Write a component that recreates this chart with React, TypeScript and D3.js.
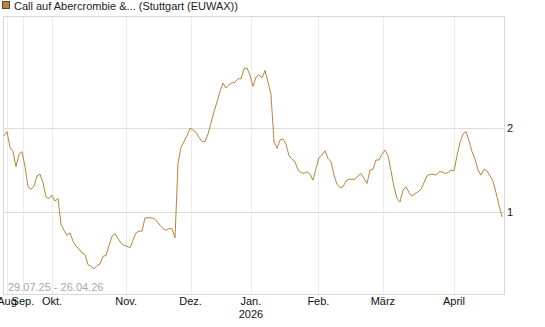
import { useEffect, useRef } from 'react';
import * as d3 from 'd3';

// Closing prices, one per trading step
const prices = [
  1.91, 1.96, 1.77, 1.72, 1.54, 1.69, 1.72, 1.54, 1.30, 1.27,
  1.31, 1.43, 1.45, 1.35, 1.18, 1.16, 1.20, 1.13, 1.16, 0.85,
  0.78, 0.72, 0.75, 0.65, 0.59, 0.56, 0.51, 0.49, 0.37, 0.35,
  0.32, 0.36, 0.38, 0.47, 0.48, 0.60, 0.71, 0.74, 0.68, 0.63,
  0.60, 0.59, 0.57, 0.66, 0.75, 0.77, 0.77, 0.93, 0.93, 0.93,
  0.92, 0.89, 0.84, 0.80, 0.78, 0.80, 0.80, 0.69, 1.58, 1.77,
  1.84, 1.91, 2.00, 1.98, 1.95, 1.89, 1.84, 1.84, 1.93, 2.06,
  2.20, 2.31, 2.44, 2.54, 2.48, 2.52, 2.54, 2.55, 2.59, 2.59,
  2.71, 2.72, 2.63, 2.50, 2.61, 2.64, 2.60, 2.69, 2.55, 2.40,
  1.84, 1.76, 1.86, 1.87, 1.81, 1.67, 1.63, 1.60, 1.50, 1.47,
  1.46, 1.48, 1.45, 1.38, 1.52, 1.65, 1.68, 1.73, 1.64, 1.60,
  1.44, 1.33, 1.29, 1.30, 1.37, 1.39, 1.39, 1.39, 1.43, 1.46,
  1.40, 1.34, 1.50, 1.51, 1.62, 1.62, 1.69, 1.74, 1.67, 1.49,
  1.30, 1.16, 1.12, 1.26, 1.30, 1.23, 1.19, 1.22, 1.24, 1.27,
  1.35, 1.43, 1.45, 1.45, 1.44, 1.48, 1.48, 1.46, 1.47, 1.50,
  1.49, 1.67, 1.83, 1.93, 1.96, 1.85, 1.72, 1.63, 1.50, 1.44,
  1.51, 1.49, 1.43, 1.37, 1.23, 1.08, 0.94,
];

const monthLabels = ['Aug', 'Sep.', 'Okt.', 'Nov.', 'Dez.', 'Jan.', 'Feb.', 'März', 'April'];
const monthIndex = [1, 6.3, 16, 40.7, 62.2, 82.3, 104.8, 126.3, 150];
const yearLabel = { label: '2026', index: 82.3 };
const yTicks = [1, 2];
const title = 'Call auf Abercrombie &... (Stuttgart (EUWAX))';
const rangeLabel = '29.07.25 - 26.04.26';

const WIDTH = 545;
const HEIGHT = 327;
const LINE_COLOR = '#b8843c';

export default function App() {
  const svgRef = useRef<SVGSVGElement>(null);

  useEffect(() => {
    if (!svgRef.current) return;
    const svg = d3.select(svgRef.current);
    svg.selectAll('*').remove();

    const box = { left: 3, right: 504, top: 16, bottom: 294 };
    const font = 'Arial, "Liberation Sans", sans-serif';

    const x = d3.scaleLinear().domain([0, prices.length - 1]).range([4, 502]);
    const y = d3.scaleLinear().domain([0.02, 3.34]).range([box.bottom, box.top]);

    // legend
    svg.append('rect')
      .attr('x', 2.5).attr('y', 1.5).attr('width', 7).attr('height', 7)
      .attr('fill', LINE_COLOR).attr('stroke', '#5a4632');
    svg.append('text')
      .attr('x', 14).attr('y', 9.5)
      .attr('font-family', font).attr('font-size', 11).attr('fill', '#222')
      .text(title);

    // vertical grid (months)
    svg.append('g')
      .selectAll('line')
      .data(monthIndex)
      .join('line')
      .attr('x1', (d) => Math.round(x(d)) + 0.5)
      .attr('x2', (d) => Math.round(x(d)) + 0.5)
      .attr('y1', box.top).attr('y2', box.bottom)
      .attr('stroke', '#ececec');

    // horizontal grid
    svg.append('g')
      .selectAll('line')
      .data(yTicks)
      .join('line')
      .attr('x1', box.left).attr('x2', box.right)
      .attr('y1', (d) => Math.round(y(d)) + 0.5)
      .attr('y2', (d) => Math.round(y(d)) + 0.5)
      .attr('stroke', '#dcdcdc');

    // frame
    svg.append('rect')
      .attr('x', box.left + 0.5).attr('y', box.top + 0.5)
      .attr('width', box.right - box.left).attr('height', box.bottom - box.top)
      .attr('fill', 'none').attr('stroke', '#d8d8d8');

    // price line
    const line = d3.line<number>()
      .x((_, i) => x(i))
      .y((d) => y(d));
    svg.append('path')
      .datum(prices)
      .attr('d', line)
      .attr('fill', 'none')
      .attr('stroke', LINE_COLOR)
      .attr('stroke-width', 1);

    // date range
    svg.append('text')
      .attr('x', 8).attr('y', 290.5)
      .attr('font-family', font).attr('font-size', 11).attr('fill', '#a8a8a8')
      .text(rangeLabel);

    // right axis labels
    svg.append('g')
      .selectAll('text')
      .data(yTicks)
      .join('text')
      .attr('x', box.right + 3)
      .attr('y', (d) => y(d) + 4)
      .attr('font-family', font).attr('font-size', 11).attr('fill', '#111')
      .text((d) => d);

    // month labels
    svg.append('g')
      .selectAll('text')
      .data(monthLabels)
      .join('text')
      .attr('x', (_, i) => x(monthIndex[i]))
      .attr('y', 305)
      .attr('text-anchor', 'middle')
      .attr('font-family', font).attr('font-size', 11).attr('fill', '#111')
      .text((d) => d);

    svg.append('text')
      .attr('x', x(yearLabel.index))
      .attr('y', 317.5)
      .attr('text-anchor', 'middle')
      .attr('font-family', font).attr('font-size', 11).attr('fill', '#111')
      .text(yearLabel.label);
  }, []);

  return (
    <svg
      ref={svgRef}
      width={WIDTH}
      height={HEIGHT}
      style={{ position: 'absolute', left: 0, top: 0, background: '#fff' }}
    />
  );
}
